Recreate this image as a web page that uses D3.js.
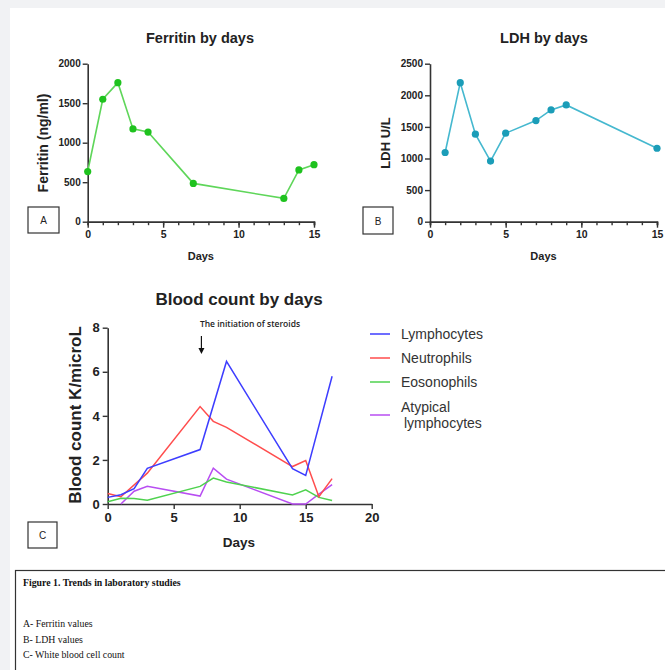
<!DOCTYPE html>
<html>
<head>
<meta charset="utf-8">
<script src="https://cdn.jsdelivr.net/npm/d3@7"></script>
<style>
  body { margin: 0; background: #f1f2f4; }
  #chart { position: absolute; left: 10px; top: 8px; width: 655px; height: 662px; background: #fff; }
  svg { position: absolute; left: 0; top: 0; }
  .tick text { font-family: Arial, "Liberation Sans", sans-serif; font-weight: bold; fill: #222; }
</style>
</head>
<body>
<div id="chart"></div>
<script>
// ---- data ----
const ferritinDays = [0, 1, 2, 3, 4, 7, 13, 14, 15];
const ferritinValues = [635, 1550, 1760, 1175, 1135, 485, 295, 655, 722];

const ldhDays = [1, 2, 3, 4, 5, 7, 8, 9, 15];
const ldhValues = [1095, 2200, 1385, 960, 1400, 1600, 1768, 1848, 1162];

const bloodSeries = ["Lymphocytes", "Neutrophils", "Eosonophils", "Atypical lymphocytes"];
const lymphoDays = [0, 1, 2, 3, 7, 9, 14, 15, 17];
const lymphoValues = [0.3, 0.42, 0.7, 1.62, 2.47, 6.47, 1.6, 1.3, 5.8];
const neutroDays = [0, 1, 3, 7, 8, 9, 14, 15, 16, 17];
const neutroValues = [0.48, 0.33, 1.4, 4.42, 3.75, 3.48, 1.7, 1.97, 0.33, 1.15];
const eosinoDays = [0, 1, 2, 3, 7, 8, 9, 14, 15, 16, 17];
const eosinoValues = [0.1, 0.26, 0.25, 0.17, 0.8, 1.18, 1.0, 0.41, 0.64, 0.3, 0.16];
const atypDays = [1, 2, 3, 7, 8, 9, 14, 15, 16, 17];
const atypValues = [0, 0.58, 0.8, 0.36, 1.63, 1.13, 0, 0, 0.45, 0.88];

const captionLines = ["A- Ferritin values", "B- LDH values", "C- White blood cell count"];

// ---- svg ----
const width = 655, height = 662;
const svg = d3.select("#chart").append("svg")
    .attr("width", width).attr("height", height);
// offset so coordinates below are page coordinates
const g = svg.append("g").attr("transform", "translate(-10,-8)");

const font = "Arial, 'Liberation Sans', sans-serif";
const axisColor = "#333";

function styleAxis(sel, fontSize) {
    sel.select(".domain").attr("stroke", axisColor).attr("stroke-width", 1.6);
    sel.selectAll(".tick line").attr("stroke", axisColor).attr("stroke-width", 1.4);
    sel.selectAll(".tick text").style("font-size", fontSize + "px");
}

function letterBox(x, y, w, h, letter) {
    g.append("rect").attr("x", x).attr("y", y).attr("width", w).attr("height", h)
        .attr("fill", "#fff").attr("stroke", "#333").attr("stroke-width", 1.2);
    g.append("text").attr("x", x + w / 2).attr("y", y + h / 2 + 4)
        .attr("text-anchor", "middle").attr("font-family", font).attr("font-size", 10)
        .attr("fill", "#222").text(letter);
}

// small panel (A / B)
function smallPanel(opt) {
    const x = d3.scaleLinear().domain([0, 15]).range([opt.x0, opt.x1]);
    const y = d3.scaleLinear().domain([0, opt.ymax]).range([221.7, 63.7]);

    // minor ticks on x
    const minor = g.append("g").attr("transform", "translate(0,221.7)")
        .call(d3.axisBottom(x).tickValues(d3.range(0, 16)).tickSize(3.5).tickFormat(""));
    styleAxis(minor, 10);
    const xa = g.append("g").attr("transform", "translate(0,221.7)")
        .call(d3.axisBottom(x).tickValues([0, 5, 10, 15]).tickSize(6).tickPadding(3).tickSizeOuter(0));
    styleAxis(xa, 10.5);

    const ya = g.append("g").attr("transform", `translate(${opt.x0},0)`)
        .call(d3.axisLeft(y).tickValues(d3.range(0, opt.ymax + 1, opt.ystep))
            .tickFormat(d3.format("d")).tickSize(5).tickPadding(2).tickSizeOuter(0));
    styleAxis(ya, 10);

    const line = d3.line().x((d, i) => x(opt.days[i])).y(d => y(d));
    g.append("path").datum(opt.values)
        .attr("fill", "none").attr("stroke", opt.lineColor).attr("stroke-width", 1.6)
        .attr("d", line);
    g.selectAll(null).data(opt.values).enter().append("circle")
        .attr("cx", (d, i) => x(opt.days[i])).attr("cy", d => y(d))
        .attr("r", 3.6).attr("fill", opt.dotColor);

    g.append("text").attr("x", opt.titleX).attr("y", 43)
        .attr("text-anchor", "middle").attr("font-family", font).attr("font-weight", "bold")
        .attr("font-size", 14.5).attr("fill", "#222").text(opt.title);
    g.append("text").attr("x", (opt.x0 + opt.x1) / 2).attr("y", 260)
        .attr("text-anchor", "middle").attr("font-family", font).attr("font-weight", "bold")
        .attr("font-size", 11).attr("fill", "#222").text("Days");
    g.append("text").attr("transform", `translate(${opt.labelX},143) rotate(-90)`)
        .attr("text-anchor", "middle").attr("font-family", font).attr("font-weight", "bold")
        .attr("font-size", opt.labelSize).attr("fill", "#222").text(opt.ylabel);
}

smallPanel({
    x0: 87.7, x1: 314, ymax: 2000, ystep: 500,
    days: ferritinDays, values: ferritinValues,
    lineColor: "#5fd65a", dotColor: "#1ec21e",
    title: "Ferritin by days", titleX: 200, ylabel: "Ferritin (ng/ml)", labelX: 48, labelSize: 14
});
letterBox(28, 207, 31, 26, "A");

smallPanel({
    x0: 430, x1: 657, ymax: 2500, ystep: 500,
    days: ldhDays, values: ldhValues,
    lineColor: "#45b8cf", dotColor: "#1b9db8",
    title: "LDH by days", titleX: 544, ylabel: "LDH U/L", labelX: 389.5, labelSize: 13
});
letterBox(363, 207, 30, 27, "B");

// ---- panel C ----
const xC = d3.scaleLinear().domain([0, 20]).range([107.7, 371.7]);
const yC = d3.scaleLinear().domain([0, 8]).range([504, 327.7]);

const xCa = g.append("g").attr("transform", "translate(0,504)")
    .call(d3.axisBottom(xC).tickValues([0, 5, 10, 15, 20]).tickSize(5).tickPadding(4).tickSizeOuter(0));
styleAxis(xCa, 13);
const yCa = g.append("g").attr("transform", "translate(107.7,0)")
    .call(d3.axisLeft(yC).tickValues([0, 2, 4, 6, 8]).tickSize(5).tickPadding(3).tickSizeOuter(0));
styleAxis(yCa, 13);

const bloodColors = ["#3d3dff", "#ff4d4d", "#4fd24f", "#b84ef2"];
const bloodData = [
    {days: lymphoDays, values: lymphoValues},
    {days: neutroDays, values: neutroValues},
    {days: eosinoDays, values: eosinoValues},
    {days: atypDays, values: atypValues}
];
// draw order: atypical, eosinophils, neutrophils, lymphocytes on top
[3, 2, 1, 0].forEach(function(k) {
    const s = bloodData[k];
    const line = d3.line().x((d, i) => xC(s.days[i])).y(d => yC(d));
    g.append("path").datum(s.values)
        .attr("fill", "none").attr("stroke", bloodColors[k]).attr("stroke-width", 1.5)
        .attr("d", line);
});

g.append("text").attr("x", 239).attr("y", 305)
    .attr("text-anchor", "middle").attr("font-family", font).attr("font-weight", "bold")
    .attr("font-size", 17).attr("fill", "#222").text("Blood count by days");
g.append("text").attr("x", 239).attr("y", 547)
    .attr("text-anchor", "middle").attr("font-family", font).attr("font-weight", "bold")
    .attr("font-size", 13.5).attr("fill", "#222").text("Days");
g.append("text").attr("transform", "translate(81,415) rotate(-90)")
    .attr("text-anchor", "middle").attr("font-family", font).attr("font-weight", "bold")
    .attr("font-size", 17).attr("fill", "#222").text("Blood count K/microL");

// steroid annotation
g.append("text").attr("x", 250).attr("y", 327)
    .attr("text-anchor", "middle").attr("font-family", "'Open Sans', sans-serif")
    .attr("font-size", 8.5).attr("font-weight", 600).attr("fill", "#222").text("The initiation of steroids");
const arrowX = xC(7.1);
g.append("line").attr("x1", arrowX).attr("x2", arrowX).attr("y1", 336).attr("y2", 350)
    .attr("stroke", "#111").attr("stroke-width", 1.2);
g.append("path").attr("d", `M${arrowX - 3},348 L${arrowX + 3},348 L${arrowX},354 Z`).attr("fill", "#111");

letterBox(28, 522, 29, 26, "C");

// legend
const legendY = [334, 358, 382, 415];
bloodSeries.forEach(function(name, i) {
    g.append("line").attr("x1", 370).attr("x2", 390).attr("y1", legendY[i]).attr("y2", legendY[i])
        .attr("stroke", bloodColors[i]).attr("stroke-width", 1.5);
    if (i < 3) {
        g.append("text").attr("x", 401).attr("y", legendY[i] + 5)
            .attr("font-family", font).attr("font-size", 14).attr("fill", "#333").text(name);
    } else {
        g.append("text").attr("x", 401).attr("y", 412)
            .attr("font-family", font).attr("font-size", 14).attr("fill", "#333").text("Atypical");
        g.append("text").attr("x", 404).attr("y", 428)
            .attr("font-family", font).attr("font-size", 14).attr("fill", "#333").text("lymphocytes");
    }
});

// caption box
g.append("rect").attr("x", 15.5).attr("y", 570.5).attr("width", 670).attr("height", 120)
    .attr("fill", "#fff").attr("stroke", "#333").attr("stroke-width", 1.2);
g.append("text").attr("x", 23).attr("y", 586)
    .attr("font-family", "'Liberation Serif', 'Times New Roman', serif").attr("font-weight", "bold")
    .attr("font-size", 9.8).attr("fill", "#111").text("Figure 1. Trends in laboratory studies");
captionLines.forEach(function(t, i) {
    g.append("text").attr("x", 23).attr("y", 627 + i * 15.5)
        .attr("font-family", "'Liberation Serif', 'Times New Roman', serif")
        .attr("font-size", 9.8).attr("fill", "#111").text(t);
});
</script>
</body>
</html>
